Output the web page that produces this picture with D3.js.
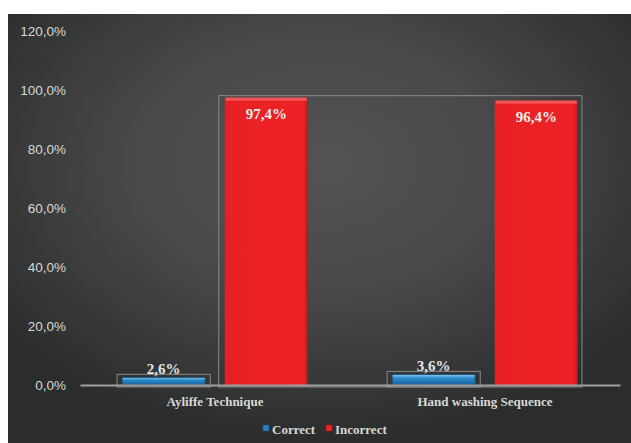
<!DOCTYPE html>
<html>
<head>
<meta charset="utf-8">
<script src="https://cdn.jsdelivr.net/npm/d3@7"></script>
<style>
  body { margin: 0; background: #fff; }
  svg { display: block; }
</style>
</head>
<body>
<svg id="chart" width="631" height="443"></svg>
<script>
// data
const categories = ["Ayliffe Technique", "Hand washing Sequence"];
const seriesNames = ["Correct", "Incorrect"];
const correctValues = [2.6, 3.6];
const incorrectValues = [97.4, 96.4];
const yTicks = [0, 20, 40, 60, 80, 100, 120];

const width = 631, height = 443;
const plot = { left: 80, right: 620, top: 31, bottom: 385 };

const locale = d3.formatLocale({ decimal: ",", thousands: ".", grouping: [3], currency: ["", ""] });
const fmt = v => locale.format(".1f")(v) + "%";

const svg = d3.select("#chart");
const defs = svg.append("defs");

// background radial gradient
const bg = defs.append("radialGradient").attr("id", "bg")
  .attr("cx", "50%").attr("cy", "35%").attr("r", "65%");
bg.append("stop").attr("offset", "0%").attr("stop-color", "#525352");
bg.append("stop").attr("offset", "45%").attr("stop-color", "#484948");
bg.append("stop").attr("offset", "100%").attr("stop-color", "#2b2c2c");

const blueGrad = defs.append("linearGradient").attr("id", "blueGrad")
  .attr("x1", 0).attr("y1", 0).attr("x2", 0).attr("y2", 1);
blueGrad.append("stop").attr("offset", "0%").attr("stop-color", "#8fd0f4");
blueGrad.append("stop").attr("offset", "35%").attr("stop-color", "#2a8ccc");
blueGrad.append("stop").attr("offset", "100%").attr("stop-color", "#19609a");

const redGrad = defs.append("linearGradient").attr("id", "redGrad")
  .attr("x1", 0).attr("y1", 0).attr("x2", 1).attr("y2", 0);
redGrad.append("stop").attr("offset", "0%").attr("stop-color", "#e82024");
redGrad.append("stop").attr("offset", "95%").attr("stop-color", "#ee2226");
redGrad.append("stop").attr("offset", "100%").attr("stop-color", "#b0181b");

svg.append("rect").attr("x", 8).attr("y", 14).attr("width", width - 8).attr("height", height - 14)
  .attr("fill", "url(#bg)");

// scales
const x0 = d3.scaleBand().domain(categories).range([plot.left, plot.right]).padding(0);
const x1 = d3.scaleBand().domain(seriesNames).range([0, x0.bandwidth()])
  .paddingInner(0.19).paddingOuter(0.41);
const y = d3.scaleLinear().domain([0, 120]).range([plot.bottom, plot.top]);

// y axis labels
const yAxis = d3.axisLeft(y).tickValues(yTicks).tickFormat(fmt).tickSize(0).tickPadding(0);
const ya = svg.append("g").attr("transform", "translate(66,0)").call(yAxis);
ya.select(".domain").remove();
ya.selectAll("text").attr("fill", "#d8d8d8")
  .style("font-family", "'Liberation Sans', Arial, sans-serif").style("font-size", "13.5px");

const rows = categories.map((c, i) => ({ cat: c, Correct: correctValues[i], Incorrect: incorrectValues[i] }));

// outline boxes (Excel-style)
const boxStroke = "#8a8a8a";
rows.forEach(r => {
  const bx = x0(r.cat) + x1("Correct");
  svg.append("rect")
    .attr("x", bx - 5).attr("y", y(r.Correct) - 3)
    .attr("width", x1.bandwidth() + 10).attr("height", y(0) - y(r.Correct) + 5)
    .attr("fill", "none").attr("stroke", boxStroke).attr("stroke-width", 1);
});
{
  const left = x0(categories[0]) + x1("Incorrect");
  const right = x0(categories[1]) + x1("Incorrect") + x1.bandwidth();
  svg.append("rect")
    .attr("x", left - 6).attr("y", y(d3.max(incorrectValues)) - 2)
    .attr("width", right - left + 10).attr("height", y(0) - y(d3.max(incorrectValues)) + 4)
    .attr("fill", "none").attr("stroke", boxStroke).attr("stroke-width", 1);
}

// bars
rows.forEach(r => {
  const g = svg.append("g").attr("transform", `translate(${x0(r.cat)},0)`);
  // correct
  const bx = x1("Correct"), bw = x1.bandwidth();
  g.append("rect").attr("x", bx).attr("y", y(r.Correct)).attr("width", bw)
    .attr("height", y(0) - y(r.Correct)).attr("fill", "url(#blueGrad)")
    .attr("stroke", "#1d4a6a").attr("stroke-width", 1);
  g.append("text").attr("x", bx + bw / 2).attr("y", y(r.Correct) - 3)
    .attr("text-anchor", "middle").attr("fill", "#e4e4e4")
    .style("font-family", "'Liberation Serif', 'Times New Roman', serif")
    .style("font-weight", "bold").style("font-size", "15px").text(fmt(r.Correct));
  // incorrect
  const rx = x1("Incorrect");
  g.append("rect").attr("x", rx).attr("y", y(r.Incorrect)).attr("width", bw)
    .attr("height", y(0) - y(r.Incorrect)).attr("fill", "url(#redGrad)");
  g.append("rect").attr("x", rx + 1).attr("y", y(r.Incorrect)).attr("width", bw - 2)
    .attr("height", 3).attr("fill", "#f25558");
  g.append("text").attr("x", rx + bw / 2).attr("y", y(r.Incorrect) + 21)
    .attr("text-anchor", "middle").attr("fill", "#ececec")
    .style("font-family", "'Liberation Serif', 'Times New Roman', serif")
    .style("font-weight", "bold").style("font-size", "15px").text(fmt(r.Incorrect));
});

// x axis
const xAxis = d3.axisBottom(x0).tickSize(0).tickPadding(12);
const xa = svg.append("g").attr("transform", `translate(0,${plot.bottom})`).call(xAxis);
xa.select(".domain").attr("stroke", "#a0a0a0").attr("stroke-width", 2);
xa.selectAll("text").attr("fill", "#d8d8d8")
  .style("font-family", "'Liberation Serif', 'Times New Roman', serif")
  .style("font-weight", "bold").style("font-size", "13px");

// legend
const legendColors = ["#2a7fc0", "#ee2226"];
const legendX = [263, 326];
const legend = svg.append("g").attr("transform", "translate(0,430)");
seriesNames.forEach((s, i) => {
  legend.append("rect").attr("x", legendX[i]).attr("y", -5).attr("width", 6).attr("height", 6)
    .attr("fill", legendColors[i]).attr("stroke", i ? "#a01418" : "#1d4a6a").attr("stroke-width", 0.6);
  legend.append("text").attr("x", legendX[i] + 9).attr("y", 4)
    .attr("fill", "#d8d8d8")
    .style("font-family", "'Liberation Serif', 'Times New Roman', serif")
    .style("font-weight", "bold").style("font-size", "13px").text(s);
});
</script>
</body>
</html>
